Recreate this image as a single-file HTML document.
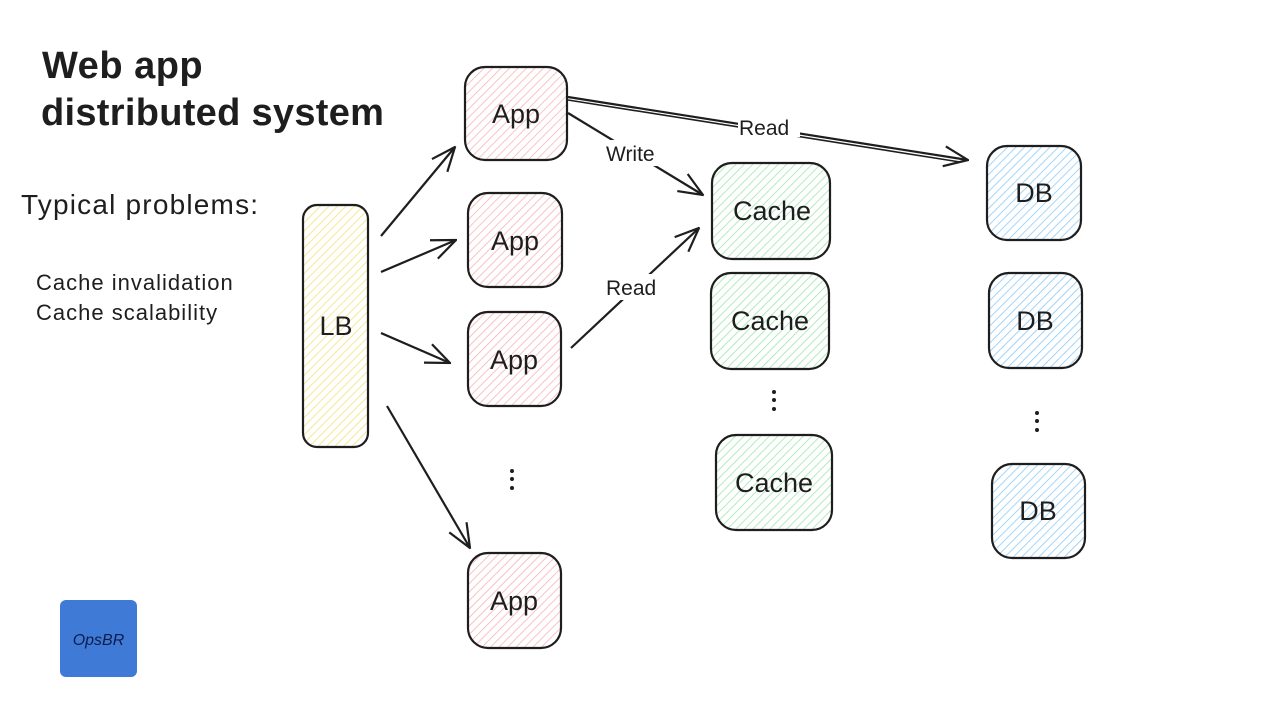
<!DOCTYPE html>
<html><head><meta charset="utf-8"><style>
html,body{margin:0;padding:0;background:#fff;}
svg{display:block}
text{font-family:"Liberation Sans",sans-serif;fill:#1e1e1e}
</style></head><body>
<svg width="1280" height="720" viewBox="0 0 1280 720" xmlns="http://www.w3.org/2000/svg">
<defs>
<pattern id="hp" width="6" height="6" patternUnits="userSpaceOnUse" patternTransform="rotate(45)"><line x1="0" y1="0" x2="0" y2="6" stroke="#f8b4b4" stroke-width="1.6"/></pattern>
<pattern id="hy" width="6" height="6" patternUnits="userSpaceOnUse" patternTransform="rotate(45)"><line x1="0" y1="0" x2="0" y2="6" stroke="#f7e07a" stroke-width="1.6"/></pattern>
<pattern id="hg" width="6" height="6" patternUnits="userSpaceOnUse" patternTransform="rotate(45)"><line x1="0" y1="0" x2="0" y2="6" stroke="#9fe6aa" stroke-width="1.6"/></pattern>
<pattern id="hb" width="6" height="6" patternUnits="userSpaceOnUse" patternTransform="rotate(45)"><line x1="0" y1="0" x2="0" y2="6" stroke="#8ccaf7" stroke-width="1.6"/></pattern>
<marker id="ar" viewBox="0 0 26 26" refX="25" refY="13" markerWidth="26" markerHeight="26" markerUnits="userSpaceOnUse" orient="auto"><path d="M1,3 L25,13 L1,23" fill="none" stroke="#1e1e1e" stroke-width="2.2"/></marker>
</defs>

<text x="42" y="78" font-size="38" font-weight="bold" letter-spacing="0.5">Web app</text>
<text x="41" y="125" font-size="38" font-weight="bold" letter-spacing="0.3">distributed system</text>
<text x="21" y="214" font-size="28" letter-spacing="1.2">Typical problems:</text>
<text x="36" y="290" font-size="22" letter-spacing="1">Cache invalidation</text>
<text x="36" y="320" font-size="22" letter-spacing="1">Cache scalability</text>

<g stroke="#1e1e1e" stroke-width="2.2">
<rect x="303" y="205" width="65" height="242" rx="14" fill="url(#hy)"/>
<rect x="465" y="67" width="102" height="93" rx="20" fill="url(#hp)"/>
<rect x="468" y="193" width="94" height="94" rx="20" fill="url(#hp)"/>
<rect x="468" y="312" width="93" height="94" rx="20" fill="url(#hp)"/>
<rect x="468" y="553" width="93" height="95" rx="20" fill="url(#hp)"/>
<rect x="712" y="163" width="118" height="96" rx="20" fill="url(#hg)"/>
<rect x="711" y="273" width="118" height="96" rx="20" fill="url(#hg)"/>
<rect x="716" y="435" width="116" height="95" rx="20" fill="url(#hg)"/>
<rect x="987" y="146" width="94" height="94" rx="20" fill="url(#hb)"/>
<rect x="989" y="273" width="93" height="95" rx="20" fill="url(#hb)"/>
<rect x="992" y="464" width="93" height="94" rx="20" fill="url(#hb)"/>
</g>
<g font-size="27" text-anchor="middle">
<text x="336" y="335">LB</text>
<text x="516" y="123">App</text>
<text x="515" y="250">App</text>
<text x="514" y="369">App</text>
<text x="514" y="610">App</text>
<text x="772" y="220">Cache</text>
<text x="770" y="330">Cache</text>
<text x="774" y="492">Cache</text>
<text x="1034" y="202">DB</text>
<text x="1035" y="330">DB</text>
<text x="1038" y="520">DB</text>
</g>
<g fill="#1e1e1e">
<circle cx="512" cy="471" r="2"/><circle cx="512" cy="479" r="2"/><circle cx="512" cy="488" r="2"/>
<circle cx="774" cy="392" r="2"/><circle cx="774" cy="400" r="2"/><circle cx="774" cy="409" r="2"/>
<circle cx="1037" cy="413" r="2"/><circle cx="1037" cy="421" r="2"/><circle cx="1037" cy="430" r="2"/>
</g>
<g stroke="#1e1e1e" stroke-width="2.2" fill="none" marker-end="url(#ar)">
<line x1="381" y1="236" x2="455" y2="147"/>
<line x1="381" y1="272" x2="456" y2="240"/>
<line x1="381" y1="333" x2="450" y2="363"/>
<line x1="387" y1="406" x2="470" y2="548"/>
<line x1="568" y1="113" x2="703" y2="195"/>
<line x1="571" y1="348" x2="699" y2="228"/>
<line x1="568" y1="97" x2="968" y2="160"/>
</g>
<line x1="568" y1="100" x2="960" y2="162" stroke="#1e1e1e" stroke-width="1.6"/>
<rect x="604" y="140" width="64" height="26" fill="#fff"/>
<rect x="604" y="274" width="60" height="26" fill="#fff"/>
<rect x="738" y="117" width="62" height="20" fill="#fff"/>
<g font-size="21">
<text x="606" y="161">Write</text>
<text x="606" y="295">Read</text>
<text x="739" y="135">Read</text>
</g>
<rect x="60" y="600" width="77" height="77" rx="6" fill="#3f7bd6"/>
<text x="98.5" y="645" font-size="16" font-style="italic" text-anchor="middle" style="fill:#0d1b4a">OpsBR</text>
</svg>
</body></html>
